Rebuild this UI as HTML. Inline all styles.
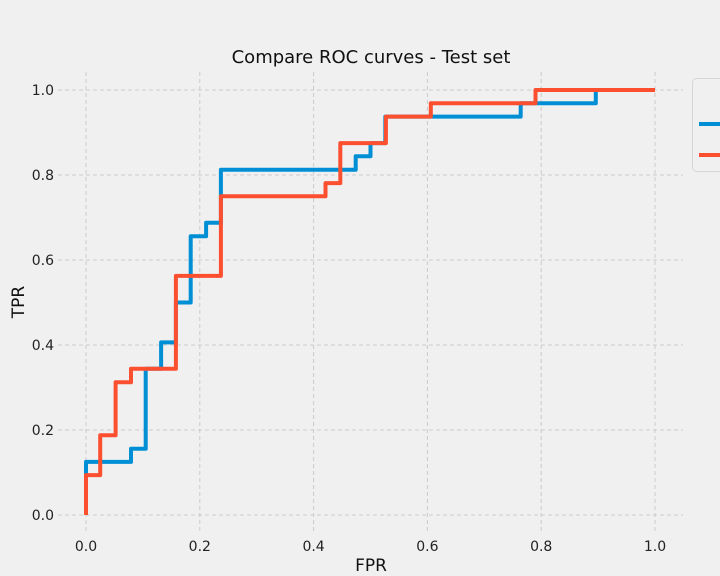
<!DOCTYPE html>
<html><head><meta charset="utf-8"><style>
html,body{margin:0;padding:0;background:#f0f0f0;}
svg{display:block;font-family:"DejaVu Sans","Liberation Sans",sans-serif;}
</style></head><body>
<svg id="chart" width="720" height="576" viewBox="0 0 720 576">
<rect width="720" height="576" fill="#f0f0f0"/>
<text x="371" y="63" font-size="18" text-anchor="middle" fill="#111">Compare ROC curves - Test set</text>
<g id="grid"></g>
<g id="ticks"></g>
<g id="lines"></g>
<text x="371" y="571" font-size="17" text-anchor="middle" fill="#111">FPR</text>
<text x="0" y="0" font-size="17" text-anchor="middle" fill="#111" transform="translate(24,302) rotate(-90)">TPR</text>
<g>
<rect x="692.5" y="78.5" width="40" height="93" rx="4" fill="#f0f0f0" stroke="#d6d6d6"/>
<line x1="699" y1="124" x2="722" y2="124" stroke="#008fd5" stroke-width="4"/>
<line x1="699" y1="155" x2="722" y2="155" stroke="#fc4f30" stroke-width="4"/>
</g>
</svg>
<script>
const xTicks=[0,0.2,0.4,0.6,0.8,1.0];
const yTicks=[0,0.2,0.4,0.6,0.8,1.0];
const blueFpr=[0,0,0.079,0.079,0.105,0.105,0.132,0.132,0.158,0.158,0.184,0.184,0.211,0.211,0.237,0.237,0.474,0.474,0.5,0.5,0.526,0.526,0.764,0.764,0.896,0.896,1.0];
const blueTpr=[0,0.125,0.125,0.156,0.156,0.344,0.344,0.406,0.406,0.5,0.5,0.656,0.656,0.6875,0.6875,0.8125,0.8125,0.844,0.844,0.875,0.875,0.9375,0.9375,0.969,0.969,1.0,1.0];
const redFpr=[0,0,0.025,0.025,0.052,0.052,0.079,0.079,0.158,0.158,0.237,0.237,0.421,0.421,0.447,0.447,0.527,0.527,0.606,0.606,0.79,0.79,1.0];
const redTpr=[0,0.094,0.094,0.1875,0.1875,0.3125,0.3125,0.344,0.344,0.5625,0.5625,0.75,0.75,0.781,0.781,0.875,0.875,0.9375,0.9375,0.969,0.969,1.0,1.0];
const NS='http://www.w3.org/2000/svg';
const xs=v=>86+569*v, ys=v=>515-425*v;
const grid=document.getElementById('grid'),ticks=document.getElementById('ticks'),lines=document.getElementById('lines');
function mk(t,a,p){const e=document.createElementNS(NS,t);for(const k in a)e.setAttribute(k,a[k]);p.appendChild(e);return e;}
xTicks.forEach(v=>{
 const l=mk('line',{x1:xs(v),x2:xs(v),y1:72,y2:533,stroke:'#cbcbcb','stroke-dasharray':'4,3'},grid);
 
 
 const t=mk('text',{x:xs(v),y:551,'font-size':14,'text-anchor':'middle',fill:'#222'},ticks);
 t.textContent=v.toFixed(1);
 
 
});
yTicks.forEach(v=>{
 const l=mk('line',{x1:58,x2:683,y1:ys(v),y2:ys(v),stroke:'#cbcbcb','stroke-dasharray':'4,3'},grid);
 
 
 const t=mk('text',{x:54,y:ys(v)+5,'font-size':14,'text-anchor':'end',fill:'#222'},ticks);
 t.textContent=v.toFixed(1);
 
 
});
function draw(f,t,c,n){
 const d=f.map((v,i)=>(i?'L':'M')+xs(v).toFixed(1)+','+ys(t[i]).toFixed(1)).join('');
 const p=mk('path',{d:d,fill:'none',stroke:c,'stroke-width':4,'stroke-linejoin':'round'},lines);
 
 
}
draw(blueFpr,blueTpr,'#008fd5','roc-curve-blue');
draw(redFpr,redTpr,'#fc4f30','roc-curve-red');
</script>
</body></html>
